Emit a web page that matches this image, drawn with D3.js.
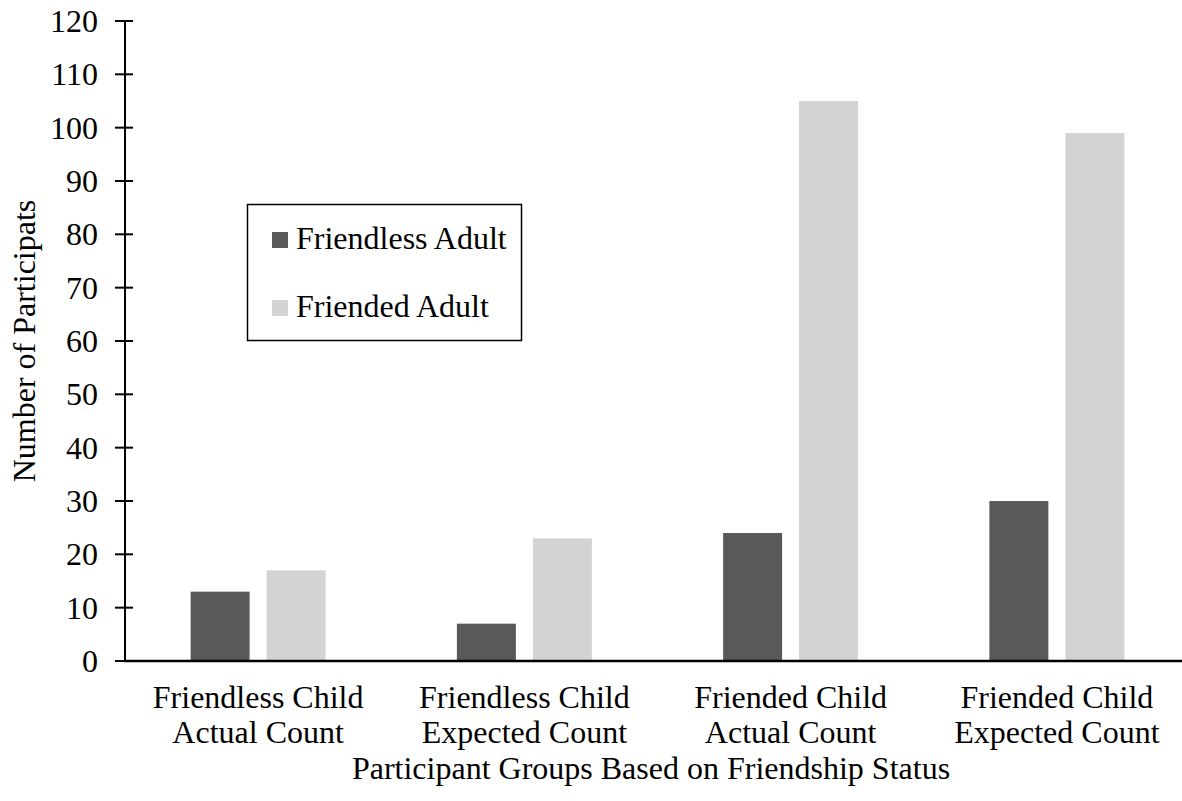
<!DOCTYPE html>
<html>
<head>
<meta charset="utf-8">
<script src="https://cdn.jsdelivr.net/npm/d3@7/dist/d3.min.js"></script>
<style>
  html, body { margin: 0; padding: 0; background: #fff; }
  svg { display: block; }
  text { font-family: "Liberation Serif", "Times New Roman", serif; fill: #000; }
</style>
</head>
<body>
<svg id="chart" width="1182" height="801"></svg>
<script>
// Participant groups (two-line category labels)
const categories = [
  ["Friendless Child", "Actual Count"],
  ["Friendless Child", "Expected Count"],
  ["Friended Child", "Actual Count"],
  ["Friended Child", "Expected Count"]
];
const seriesNames = ["Friendless Adult", "Friended Adult"];
const friendlessAdult = [13, 7, 24, 30];
const friendedAdult = [17, 23, 105, 99];
const yTicks = [0, 10, 20, 30, 40, 50, 60, 70, 80, 90, 100, 110, 120];
const yTitle = "Number of Participats";
const xTitle = "Participant Groups Based on Friendship Status";

const colors = { "Friendless Adult": "#595959", "Friended Adult": "#d3d3d3" };
const seriesValues = { "Friendless Adult": friendlessAdult, "Friended Adult": friendedAdult };

const svg = d3.select("#chart");
const axisX = 125, baseY = 661, topY = 21;
const fontSize = 32;

const catKeys = categories.map((c, i) => i);
const x0 = d3.scaleBand().domain(catKeys).range([axisX, 1190]).padding(0);
const bw = x0.bandwidth();
const x1 = d3.scaleBand().domain(seriesNames)
  .range([bw * 0.2465, bw * 0.7535]).paddingInner(0.224).paddingOuter(0);
const y = d3.scaleLinear().domain([0, 120]).range([baseY, topY]);

// Bars
seriesNames.forEach(name => {
  svg.append("g").selectAll("rect")
    .data(seriesValues[name])
    .join("rect")
    .attr("x", (d, i) => x0(i) + x1(name))
    .attr("y", d => y(d))
    .attr("width", x1.bandwidth())
    .attr("height", d => y(0) - y(d))
    .attr("fill", colors[name]);
});

// Y axis
const yAxis = svg.append("g");
yAxis.append("line")
  .attr("x1", axisX).attr("x2", axisX)
  .attr("y1", y(120)).attr("y2", y(0))
  .attr("stroke", "#000").attr("stroke-width", 2);
yAxis.selectAll("line.tick")
  .data(yTicks)
  .join("line")
  .attr("class", "tick")
  .attr("x1", 115).attr("x2", 133)
  .attr("y1", d => y(d)).attr("y2", d => y(d))
  .attr("stroke", "#000").attr("stroke-width", 2);
yAxis.selectAll("text")
  .data(yTicks)
  .join("text")
  .attr("x", 98)
  .attr("y", d => y(d))
  .attr("dy", "0.34em")
  .attr("text-anchor", "end")
  .attr("font-size", fontSize)
  .text(d => d);

// X axis baseline
svg.append("line")
  .attr("x1", axisX - 1).attr("x2", 1182)
  .attr("y1", baseY).attr("y2", baseY)
  .attr("stroke", "#000").attr("stroke-width", 2.5);

// Category labels
const catG = svg.append("g");
categories.forEach((lines, i) => {
  const cx = x0(i) + bw / 2;
  const t = catG.append("text")
    .attr("text-anchor", "middle")
    .attr("font-size", fontSize);
  lines.forEach((ln, j) => {
    t.append("tspan").attr("x", cx).attr("y", 708 + j * 35).text(ln);
  });
});

// Axis titles
svg.append("text")
  .attr("x", 651)
  .attr("y", 779)
  .attr("text-anchor", "middle")
  .attr("font-size", fontSize)
  .text(xTitle);

svg.append("text")
  .attr("transform", `translate(35,${(y(0) + y(120)) / 2}) rotate(-90)`)
  .attr("text-anchor", "middle")
  .attr("font-size", fontSize)
  .text(yTitle);

// Legend
const legend = svg.append("g");
legend.append("rect")
  .attr("x", 247.5).attr("y", 204.5)
  .attr("width", 274).attr("height", 136)
  .attr("fill", "#fff").attr("stroke", "#000").attr("stroke-width", 1.5);
seriesNames.forEach((name, i) => {
  const by = 249 + i * 68;
  legend.append("rect")
    .attr("x", 272).attr("y", by - 17)
    .attr("width", 16).attr("height", 16)
    .attr("fill", colors[name]);
  legend.append("text")
    .attr("x", 296).attr("y", by)
    .attr("font-size", fontSize)
    .text(name);
});
</script>
</body>
</html>
